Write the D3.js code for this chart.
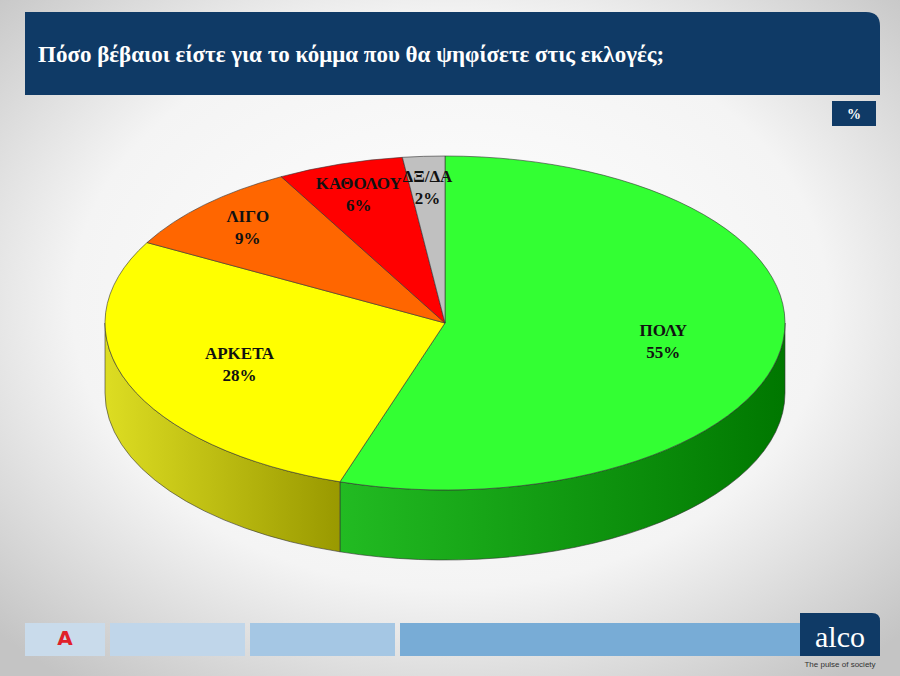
<!DOCTYPE html>
<html lang="en">
<meta charset="utf-8"/>
<script src="https://d3js.org/d3.v7.min.js"></script>
<title>Πόσο βέβαιοι είστε</title>
<body style="margin:0">
<div id="chartDiv"></div>
<script>
    const categories = ["ΠΟΛΥ", "ΑΡΚΕΤΑ", "ΛΙΓΟ", "ΚΑΘΟΛΟΥ", "ΔΞ/ΔΑ"];
    const values = [55, 28, 9, 6, 2];
    const topColors = ["#33ff33", "#ffff00", "#ff6600", "#ff0000", "#c0c0c0"];
    const sideColors = [["#007700", "#22bb22"], ["#999900", "#dddd22"], ["#aa4400", "#dd6600"], ["#aa0000", "#dd0000"], ["#808080", "#a0a0a0"]];

    const W = 900, H = 676;
    const cx = 445, cy = 323, rx = 340, ry = 167, depth = 70;

    const svg = d3.select("#chartDiv").append("svg").attr("width", W).attr("height", H);
    const defs = svg.append("defs");

    const bg = defs.append("radialGradient").attr("id", "bg").attr("cx", "50%").attr("cy", "45%").attr("r", "70%");
    bg.append("stop").attr("offset", "0%").attr("stop-color", "#ffffff");
    bg.append("stop").attr("offset", "60%").attr("stop-color", "#f4f4f4");
    bg.append("stop").attr("offset", "100%").attr("stop-color", "#c4c4c4");
    svg.append("rect").attr("width", W).attr("height", H).attr("fill", "url(#bg)");

    // header
    svg.append("path").attr("d", "M25,12 H866 Q880,12 880,26 V95 H25 Z").attr("fill", "#0f3a66");
    svg.append("text").attr("x", 38).attr("y", 62).attr("fill", "#fff")
        .attr("font-family", "Liberation Serif").attr("font-weight", "bold").attr("font-size", 23)
        .text("Πόσο βέβαιοι είστε για το κόμμα που θα ψηφίσετε στις εκλογές;");
    svg.append("rect").attr("x", 832).attr("y", 101).attr("width", 44).attr("height", 25).attr("fill", "#0f3a66");
    svg.append("text").attr("x", 854).attr("y", 119).attr("text-anchor", "middle").attr("fill", "#fff")
        .attr("font-family", "Liberation Serif").attr("font-weight", "bold").attr("font-size", 14).text("%");

    const pie = d3.pie().sort(null).value(d => d)(values);
    const pt = (a, dy = 0) => [cx + rx * Math.sin(a), cy - ry * Math.cos(a) + dy];

    sideColors.forEach((c, i) => {
        const g = defs.append("linearGradient").attr("id", "side" + i).attr("x1", "0").attr("x2", "1");
        g.append("stop").attr("offset", "0%").attr("stop-color", c[1]);
        g.append("stop").attr("offset", "100%").attr("stop-color", c[0]);
    });

    // sides (front half only: angles between PI/2 and 3PI/2)
    pie.forEach((p, i) => {
        const a0 = Math.max(p.startAngle, Math.PI / 2), a1 = Math.min(p.endAngle, 3 * Math.PI / 2);
        if (a1 <= a0) return;
        const s = pt(a0), e = pt(a1);
        const d = `M${s} A${rx},${ry} 0 0 1 ${e} L${e[0]},${e[1] + depth} A${rx},${ry} 0 0 0 ${s[0]},${s[1] + depth} Z`;
        svg.append("path").attr("d", d).attr("fill", `url(#side${i})`).attr("stroke", "#333").attr("stroke-width", 0.6);
    });

    // tops
    pie.forEach((p, i) => {
        const s = pt(p.startAngle), e = pt(p.endAngle);
        const large = p.endAngle - p.startAngle > Math.PI ? 1 : 0;
        svg.append("path").attr("d", `M${cx},${cy} L${s} A${rx},${ry} 0 ${large} 1 ${e} Z`)
            .attr("fill", topColors[i]).attr("stroke", "#333").attr("stroke-width", 0.6);
    });

    // labels
    pie.forEach((p, i) => {
        const mid = (p.startAngle + p.endAngle) / 2;
        const f = values[i] > 20 ? 0.65 : 0.82;
        const x = cx + rx * f * Math.sin(mid), y = cy - ry * f * Math.cos(mid);
        const t = svg.append("text").attr("text-anchor", "middle").attr("font-family", "Liberation Serif")
            .attr("font-weight", "bold").attr("font-size", 17).attr("fill", "#111");
        t.append("tspan").attr("x", x).attr("y", y - 4).text(categories[i]);
        t.append("tspan").attr("x", x).attr("y", y + 18).text(values[i] + "%");
    });

    // footer
    const foot = [[25, 80, "#c9dbeb"], [110, 135, "#c0d6ea"], [250, 145, "#a5c7e4"], [400, 400, "#78acd6"]];
    foot.forEach(b => svg.append("rect").attr("x", b[0]).attr("y", 623).attr("width", b[1]).attr("height", 33).attr("fill", b[2]));
    svg.append("text").attr("x", 65).attr("y", 645).attr("text-anchor", "middle").attr("fill", "#e0202a")
        .attr("font-family", "DejaVu Sans").attr("font-weight", "bold").attr("font-size", 20).text("A");
    svg.append("path").attr("d", "M800,613 H872 Q880,613 880,621 V656 H800 Z").attr("fill", "#0f3a66");
    svg.append("text").attr("x", 840).attr("y", 647).attr("text-anchor", "middle").attr("fill", "#fff")
        .attr("font-family", "Liberation Serif").attr("font-size", 30).text("alco");
    svg.append("text").attr("x", 840).attr("y", 667).attr("text-anchor", "middle").attr("fill", "#333")
        .attr("font-family", "Liberation Sans").attr("font-size", 8).text("The pulse of society");
</script>
</body>
</html>
